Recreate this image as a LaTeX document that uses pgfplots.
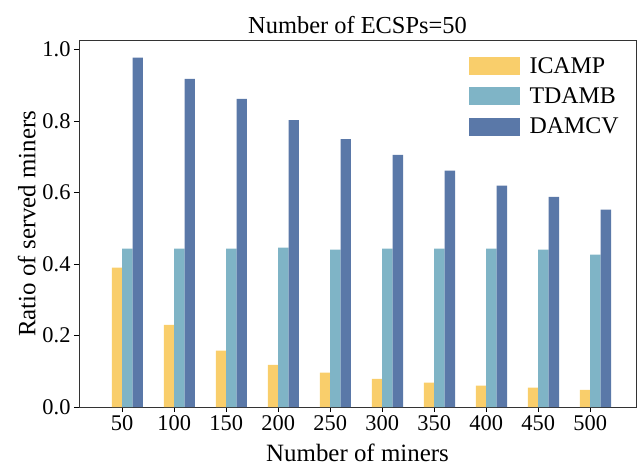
\documentclass[border=0pt]{standalone}
\usepackage{pgfplots}
\pgfplotsset{compat=1.18}
\usepackage{fontspec}
\setmainfont{Liberation Serif}
\definecolor{icamp}{RGB}{249,206,107}
\definecolor{tdamb}{RGB}{127,180,198}
\definecolor{damcv}{RGB}{90,120,168}

\begin{document}
\begin{tikzpicture}
\path[use as bounding box] (-79bp,-60bp) rectangle (559bp,407bp);
\begin{axis}[
    at={(0,0)}, anchor=south west,
    scale only axis,
    width=557bp, height=366.5bp,
    xmin=-0.83, xmax=9.88,
    ymin=0, ymax=1.025,
    xtick={0,1,2,3,4,5,6,7,8,9},
    xticklabels={50,100,150,200,250,300,350,400,450,500},
    ytick={0,0.2,0.4,0.6,0.8,1.0},
    yticklabel style={/pgf/number format/.cd, fixed, fixed zerofill, precision=1},
    /pgf/number format/assume math mode=true,
    tick align=outside, tick pos=left,
    major tick length=5bp,
    every tick/.style={black, line width=0.8bp},
    axis line style={black!80, line width=0.9bp},
    ticklabel style={font=\fontsize{22.5}{24}\selectfont},
    title={Number of ECSPs=50},
    title style={font=\fontsize{24.5}{27}\selectfont, yshift=-3bp},
    xlabel={Number of miners},
    ylabel={Ratio of served miners},
    label style={font=\fontsize{25}{28}\selectfont},
    xlabel style={yshift=-6bp},
    ylabel style={yshift=0bp},
    ybar, bar width=0.2,
    legend cell align=left,
    legend style={at={(0.978,0.965)}, anchor=north east, draw=none, fill=none,
        font=\fontsize{24}{27}\selectfont, row sep=9bp,
        /tikz/every odd column/.append style={column sep=8bp}},
]
\addplot+[bar shift=-0.1, fill=icamp, draw=none,
    legend image code/.code={\fill[icamp] (0bp,-9bp) rectangle (51bp,9bp);}]
coordinates {
    (0,0.390) (1,0.230) (2,0.158) (3,0.118) (4,0.096)
    (5,0.079) (6,0.068) (7,0.060) (8,0.054) (9,0.048)
};
\addplot+[bar shift=0.1, fill=tdamb, draw=none,
    legend image code/.code={\fill[tdamb] (0bp,-9bp) rectangle (51bp,9bp);}]
coordinates {
    (0,0.443) (1,0.443) (2,0.443) (3,0.446) (4,0.440)
    (5,0.443) (6,0.443) (7,0.443) (8,0.440) (9,0.426)
};
\addplot+[bar shift=0.3, fill=damcv, draw=none,
    legend image code/.code={\fill[damcv] (0bp,-9bp) rectangle (51bp,9bp);}]
coordinates {
    (0,0.977) (1,0.918) (2,0.862) (3,0.802) (4,0.749)
    (5,0.705) (6,0.661) (7,0.619) (8,0.588) (9,0.552)
};
\legend{ICAMP, TDAMB, DAMCV}
\end{axis}
\end{tikzpicture}
\end{document}
